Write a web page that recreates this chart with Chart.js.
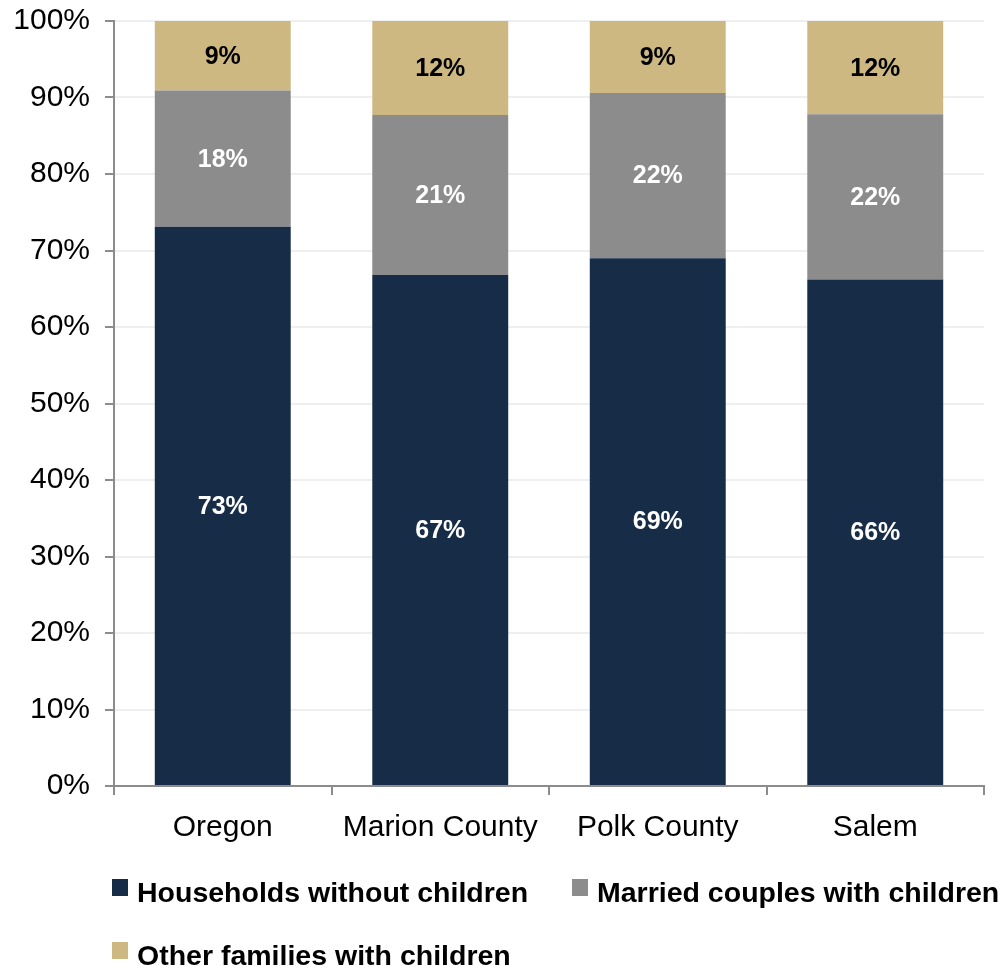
<!DOCTYPE html>
<html>
<head>
<meta charset="utf-8">
<script src="https://cdn.jsdelivr.net/npm/chart.js@4.4.1/dist/chart.umd.min.js"></script>
<style>
  html, body { margin: 0; padding: 0; background: #fff; overflow: hidden; }
  #wrap { position: relative; width: 1003px; height: 966px; }
  .leg { position: absolute; white-space: nowrap; font: bold 28.5px 'Liberation Sans', Arial, sans-serif; line-height: 28px; color: #000; }
  .leg i { position: absolute; left: -25px; top: 1px; width: 16px; height: 17px; }
</style>
</head>
<body>
<div id="wrap">
  <canvas id="householdChart"></canvas>
  <div id="legend"></div>
</div>
<script>
// Household composition, share of households
const categories = ['Oregon', 'Marion County', 'Polk County', 'Salem'];
const noChildren = [73.1, 66.8, 69.0, 66.2];
const marriedWithChildren = [17.8, 20.9, 21.6, 21.6];
const otherWithChildren = [9.1, 12.3, 9.4, 12.2];
const yTicks = [0, 10, 20, 30, 40, 50, 60, 70, 80, 90, 100];

const COLORS = {
  navy: '#172d47',
  gray: '#8c8c8c',
  tan: '#cdb882',
  axis: '#8c8c8c',
  grid: '#efefef',
};
const FONT = "'Liberation Sans', Arial, sans-serif";

// ── Segment labels ─────────────────────────────────────
const segmentLabels = {
  id: 'segmentLabels',
  afterDatasetsDraw(chart) {
    const ctx = chart.ctx;
    ctx.save();
    ctx.font = 'bold 25px ' + FONT;
    ctx.textAlign = 'center';
    ctx.textBaseline = 'middle';
    chart.data.datasets.forEach((ds, i) => {
      const meta = chart.getDatasetMeta(i);
      ctx.fillStyle = ds.labelColor;
      meta.data.forEach((bar, j) => {
        const y = (bar.y + bar.base) / 2;
        ctx.fillText(Math.round(ds.data[j]) + '%', bar.x, y + 1);
      });
    });
    ctx.restore();
  }
};

const chart = new Chart(document.getElementById('householdChart'), {
  type: 'bar',
  data: {
    labels: categories,
    datasets: [
      { label: 'Households without children', data: noChildren, backgroundColor: COLORS.navy, labelColor: '#fff' },
      { label: 'Married couples with children', data: marriedWithChildren, backgroundColor: COLORS.gray, labelColor: '#fff' },
      { label: 'Other families with children', data: otherWithChildren, backgroundColor: COLORS.tan, labelColor: '#000' },
    ]
  },
  options: {
    responsive: true,
    maintainAspectRatio: false,
    animation: false,
    datasets: { bar: { categoryPercentage: 1, barPercentage: 0.625 } },
    layout: { padding: { top: 21, right: 19, bottom: 0, left: 0 } },
    plugins: { legend: { display: false }, tooltip: { enabled: false } },
    scales: {
      x: {
        stacked: true,
        afterFit: (s) => { s.height = 180; s.paddingLeft = 0; s.paddingRight = 0; },
        grid: { drawOnChartArea: false, tickLength: 9, tickColor: COLORS.axis, lineWidth: 2, offset: true },
        border: { color: COLORS.axis, width: 2 },
        ticks: { color: '#000', font: { family: FONT, size: 30 }, padding: 15, maxRotation: 0, autoSkip: false }
      },
      y: {
        stacked: true,
        min: 0,
        max: 100,
        afterFit: (s) => { s.width = 114; s.paddingTop = 0; s.paddingBottom = 0; },
        afterBuildTicks: (s) => { s.ticks = yTicks.map(v => ({ value: v })); },
        grid: { color: COLORS.grid, lineWidth: 2, tickLength: 9, tickColor: COLORS.axis },
        border: { color: COLORS.axis, width: 2 },
        ticks: { color: '#000', font: { family: FONT, size: 30 }, padding: 15, callback: (v) => v + '%' }
      }
    }
  },
  plugins: [segmentLabels]
});

// ── HTML legend, laid out like the original ────────────
const legendSpots = [[137, 878], [597, 878], [137, 941]];
const legendEl = document.getElementById('legend');
chart.data.datasets.forEach((ds, i) => {
  const item = document.createElement('div');
  item.className = 'leg';
  item.style.left = legendSpots[i][0] + 'px';
  item.style.top = legendSpots[i][1] + 'px';
  item.innerHTML = '<i style="background:' + ds.backgroundColor + '"></i>' + ds.label;
  legendEl.appendChild(item);
});
</script>
</body>
</html>
